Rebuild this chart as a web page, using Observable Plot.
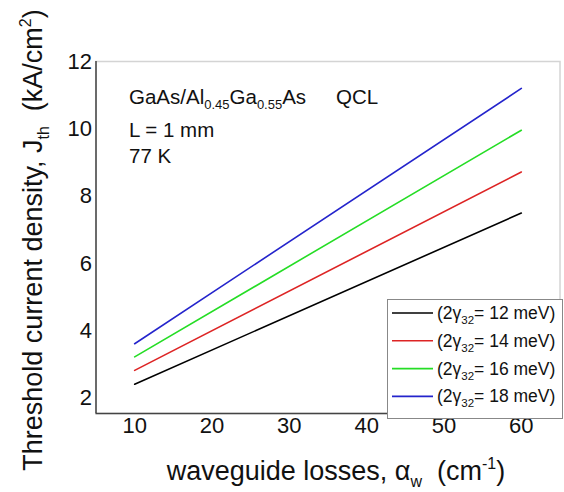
<!DOCTYPE html>
<html>
<head>
<meta charset="utf-8">
<script src="https://cdn.jsdelivr.net/npm/d3@7"></script>
<script src="https://cdn.jsdelivr.net/npm/@observablehq/plot@0.6"></script>
<style>
  body { margin: 0; background: #fff; font-family: "Liberation Sans", Arial, sans-serif; }
  #chart { position: relative; width: 564px; height: 492px; }
  #legend { position: absolute; left: 387px; top: 299px; }
</style>
</head>
<body>
<div id="chart"></div>
<script>
// Waveguide losses (cm^-1) at which each threshold curve is evaluated
const losses = [10, 60];
// Broadening 2γ32 (meV) for each curve
const broadenings = [12, 14, 16, 18];
// Threshold current density J_th (kA/cm^2) at each loss value
const jth12 = [2.42, 7.50];
const jth14 = [2.83, 8.72];
const jth16 = [3.23, 9.96];
const jth18 = [3.62, 11.20];
const seriesColors = ["#000000", "#dd2424", "#25dd25", "#2424cc"];
const xTicks = [10, 20, 30, 40, 50, 60];
const yTicks = [2, 4, 6, 8, 10, 12];
const xDomain = [5, 65];
const yDomain = [1.55, 12];

const allSeries = [jth12, jth14, jth16, jth18];
const rows = allSeries.flatMap((vals, i) =>
  losses.map((a, j) => ({ alpha: a, jth: vals[j], g: broadenings[i] }))
);

const font = '"Liberation Sans", Arial, sans-serif';

const plot = Plot.plot({
  width: 564,
  height: 492,
  marginLeft: 95.5,
  marginRight: 4.5,
  marginTop: 61,
  marginBottom: 79,
  style: { fontFamily: font, background: "#fff", overflow: "visible" },
  x: { domain: xDomain },
  y: { domain: yDomain },
  color: { domain: broadenings, range: seriesColors },
  marks: [
    Plot.frame({ stroke: "#d4d4d4", strokeWidth: 1.5 }),
    Plot.ruleX([xDomain[0]], { stroke: "#444", strokeWidth: 1.5 }),
    Plot.ruleY([yDomain[0]], { stroke: "#444", strokeWidth: 1.5 }),
    Plot.axisX(xTicks, { tickSize: 0, tickPadding: 4, fontSize: 22, fill: "#111", label: null }),
    Plot.axisY(yTicks, { tickSize: 0, tickPadding: 4, fontSize: 22, fill: "#111", label: null }),
    Plot.line(rows, { x: "alpha", y: "jth", z: "g", stroke: "g", strokeWidth: 1.6 })
  ]
});

document.getElementById("chart").appendChild(plot);

const svg = d3.select(plot);

// Axis titles with sub/superscripts
const xt = svg.append("text")
  .attr("x", 336).attr("y", 480)
  .attr("text-anchor", "middle")
  .attr("font-family", font).attr("font-size", 27).attr("fill", "#111");
xt.append("tspan").text("waveguide losses, α");
xt.append("tspan").attr("font-size", 16).attr("dy", 7).text("w");
xt.append("tspan").attr("dy", -7).text("\u00a0\u00a0(cm");
xt.append("tspan").attr("font-size", 16).attr("dy", -11).text("-1");
xt.append("tspan").attr("dy", 11).text(")");

const yt = svg.append("text")
  .attr("transform", "translate(42,240) rotate(-90)")
  .attr("text-anchor", "middle")
  .attr("font-family", font).attr("font-size", 27).attr("fill", "#111");
yt.append("tspan").text("Threshold current density, J");
yt.append("tspan").attr("font-size", 16).attr("dy", 7).text("th");
yt.append("tspan").attr("dy", -7).text("\u00a0\u00a0(kA/cm");
yt.append("tspan").attr("font-size", 16).attr("dy", -11).text("2");
yt.append("tspan").attr("dy", 11).text(")");

// Structure annotation
const note = svg.append("g")
  .attr("text-anchor", "start")
  .attr("font-family", font).attr("font-size", 20.5).attr("fill", "#111");
const l1 = note.append("text").attr("x", 129).attr("y", 104);
l1.append("tspan").text("GaAs/Al");
l1.append("tspan").attr("font-size", 13).attr("dy", 5).text("0.45");
l1.append("tspan").attr("dy", -5).text("Ga");
l1.append("tspan").attr("font-size", 13).attr("dy", 5).text("0.55");
l1.append("tspan").attr("dy", -5).text("As");
note.append("text").attr("x", 336).attr("y", 104).text("QCL");
note.append("text").attr("x", 129).attr("y", 137).text("L = 1 mm");
note.append("text").attr("x", 129).attr("y", 163).text("77 K");

// Legend box
const lw = 176, lh = 120;
const leg = d3.select("#chart").append("svg")
  .attr("id", "legend")
  .attr("width", lw).attr("height", lh);
leg.append("rect")
  .attr("x", 0.5).attr("y", 0.5).attr("width", lw - 1).attr("height", lh - 1)
  .attr("fill", "#fff").attr("stroke", "#888");
broadenings.forEach((g, i) => {
  const cy = 14 + i * 27.8;
  leg.append("line")
    .attr("x1", 5).attr("x2", 46).attr("y1", cy).attr("y2", cy)
    .attr("stroke", seriesColors[i]).attr("stroke-width", 1.6);
  const t = leg.append("text")
    .attr("x", 50).attr("y", cy + 6)
    .attr("font-family", font).attr("font-size", 17.5).attr("fill", "#111");
  t.append("tspan").text("(2γ");
  t.append("tspan").attr("font-size", 11.5).attr("dy", 5).text("32");
  t.append("tspan").attr("dy", -5).text(`= ${g} meV)`);
});
</script>
</body>
</html>
